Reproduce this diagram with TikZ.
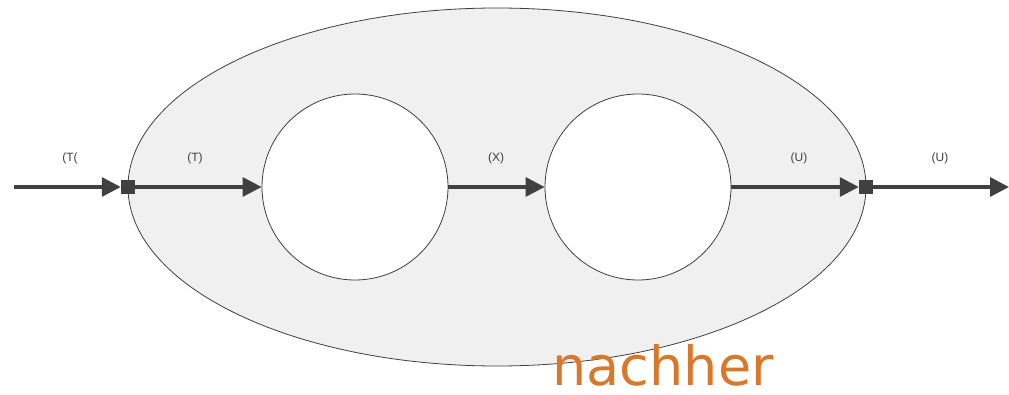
\documentclass[tikz,border=0pt]{standalone}
\usepackage{fontspec}
\setmainfont{Liberation Sans}
\newfontfamily\handfont{DejaVu Sans}
\usetikzlibrary{arrows.meta,shapes.geometric}
\definecolor{linegray}{HTML}{404040}
\definecolor{ellfill}{HTML}{F0F0F0}
\definecolor{orangetxt}{HTML}{D9782A}
\begin{document}
\begin{tikzpicture}[x=1pt,y=-1pt,
  flow/.style={draw=linegray,line width=3.2pt,-{Triangle[length=19pt,width=19pt]}},
  port/.style={fill=linegray,draw=none,minimum size=14pt,inner sep=0pt},
  proc/.style={circle,draw=linegray,line width=0.8pt,fill=white,minimum size=186pt,inner sep=0pt},
  lbl/.style={font=\fontsize{12}{14}\selectfont,text=linegray}]
\useasboundingbox (0,0) rectangle (1009,395);
\node[ellipse,draw=linegray,line width=0.8pt,fill=ellfill,minimum width=738pt,minimum height=358pt,inner sep=0pt] (sys) at (497,187) {};
\node[proc] (p1) at (355,187) {};
\node[proc] (p2) at (638,187) {};
\node[port] (in) at (128,187) {};
\node[port] (out) at (866,187) {};
\coordinate (src) at (14,187);
\coordinate (dst) at (1009,187);
\draw[flow] (src) -- (in.west);
\draw[flow] (in.east) -- (p1.west);
\draw[flow] (p1.east) -- (p2.west);
\draw[flow] (p2.east) -- (out.west);
\draw[flow] (out.east) -- (dst);
\node[lbl] (l1) at (70,158) {(T(};
\node[lbl] (l2) at (195,158) {(T)};
\node[lbl] (l3) at (496,158) {(X)};
\node[lbl] (l4) at (799,158) {(U)};
\node[lbl] (l5) at (940,158) {(U)};
\node[font=\handfont\fontsize{54}{54}\selectfont,text=orangetxt,anchor=base,inner sep=0pt] (nh) at (663,385) {nachher};
\end{tikzpicture}
\end{document}
